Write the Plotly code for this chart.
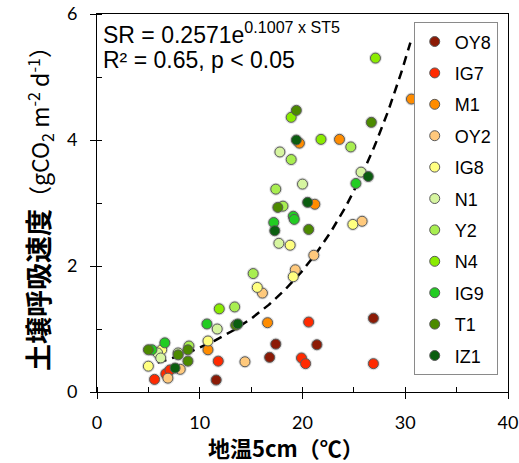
import numpy as np
import plotly.graph_objects as go

# Soil temperature at 5 cm (°C) and soil respiration (gCO2 m-2 d-1) per site
site_names = ["OY8", "IG7", "M1", "OY2", "IG8", "N1", "Y2", "N4", "IG9", "T1", "IZ1"]
site_colors = ["#8c1a05", "#ff2a00", "#ff8c00", "#ffc97c", "#ffff80", "#d6f5a0",
               "#a8ee50", "#8aec00", "#22cc22", "#4c8a00", "#0b5e10"]

temp_OY8 = [11.6, 26.9, 17.4, 21.4, 16.8, 6.8]
resp_OY8 = [0.19, 1.17, 0.76, 0.75, 0.55, 0.28]
temp_IG7 = [20.6, 11.8, 19.9, 20.3, 26.9, 5.6, 6.7, 7.1]
resp_IG7 = [1.11, 0.49, 0.54, 0.45, 0.45, 0.20, 0.29, 0.35]
temp_M1 = [30.6, 23.6, 19.7, 21.2, 16.6, 10.8]
resp_M1 = [4.65, 4.01, 3.95, 2.98, 1.10, 0.67]
temp_OY2 = [25.8, 21.1, 19.3, 16.1, 14.4, 6.9, 8.1]
resp_OY2 = [2.71, 2.17, 1.94, 1.57, 0.48, 0.22, 0.36]
temp_IG8 = [24.9, 18.8, 19.1, 15.6, 10.8, 5.0, 6.3]
resp_IG8 = [2.66, 2.33, 1.83, 1.66, 0.81, 0.41, 0.67]
temp_N1 = [17.8, 20.0, 25.7, 17.7, 11.7, 5.9, 6.2, 7.9]
resp_N1 = [3.81, 3.30, 3.49, 2.36, 1.00, 0.62, 0.54, 0.62]
temp_Y2 = [18.9, 24.7, 17.4, 18.1, 15.2, 8.95, 13.4]
resp_Y2 = [3.69, 3.89, 3.22, 2.95, 1.88, 0.73, 1.35]
temp_N4 = [27.1, 18.9, 21.8, 11.9]
resp_N4 = [5.30, 4.36, 4.01, 1.32]
temp_IG9 = [25.2, 19.1, 19.2, 17.2, 10.7, 6.6, 5.35]
resp_IG9 = [3.31, 2.79, 2.74, 2.69, 1.08, 0.78, 0.67]
temp_T1 = [19.4, 26.7, 17.6, 20.6, 7.9, 8.85, 8.85, 5.0, 13.5]
resp_T1 = [4.47, 4.28, 2.93, 2.58, 0.59, 0.67, 0.49, 0.67, 1.06]
temp_IZ1 = [19.4, 20.5, 26.4, 17.3, 13.7, 7.6]
resp_IZ1 = [4.00, 3.01, 3.42, 2.56, 1.08, 0.38]

site_temps = [temp_OY8, temp_IG7, temp_M1, temp_OY2, temp_IG8, temp_N1,
              temp_Y2, temp_N4, temp_IG9, temp_T1, temp_IZ1]
site_resps = [resp_OY8, resp_IG7, resp_M1, resp_OY2, resp_IG8, resp_N1,
              resp_Y2, resp_N4, resp_IG9, resp_T1, resp_IZ1]

x_ticks = [0, 10, 20, 30, 40]
y_ticks = [0, 2, 4, 6]

# Exponential fit SR = a * exp(b * ST5)
fit_a = 0.2571
fit_b = 0.1007
fit_range = [4.5, 30.5]

fig = go.Figure()

fit_x = np.linspace(fit_range[0], fit_range[1], 200)
fit_y = fit_a * np.exp(fit_b * fit_x)
fig.add_trace(go.Scatter(
    x=fit_x, y=fit_y, mode="lines", showlegend=False, hoverinfo="skip",
    line=dict(color="black", width=2.5, dash="9px,6px"),
))

# soft halo under each marker
all_t = [t for ts in site_temps for t in ts]
all_r = [r for rs in site_resps for r in rs]
fig.add_trace(go.Scatter(
    x=all_t, y=all_r, mode="markers", showlegend=False, hoverinfo="skip",
    marker=dict(size=13, color="rgba(0,0,0,0.13)", line=dict(width=0)),
))

for name, color, ts, rs in zip(site_names, site_colors, site_temps, site_resps):
    fig.add_trace(go.Scatter(
        x=ts, y=rs, mode="markers", name=name, legendgroup=name,
        marker=dict(size=10, color=color, line=dict(color="#5a5a5a", width=1)),
    ))

tick_font = dict(family="Lato, 'Open Sans', sans-serif", size=18, color="black")
axis_common = dict(showgrid=False, zeroline=False, showline=True, linecolor="black",
                   linewidth=1, tickcolor="black")

fig.update_layout(
    width=519, height=463,
    margin=dict(l=97, r=11, t=14, b=71, autoexpand=False),
    paper_bgcolor="white", plot_bgcolor="white",
    font=dict(family="Liberation Sans, Arial, sans-serif", color="black"),
    xaxis=dict(
        range=[0, 40], tickvals=x_ticks, mirror=True,
        ticks="outside", ticklen=6, ticklabelstandoff=8,
        minor=dict(dtick=5, ticks="inside", ticklen=5, tickcolor="black", showgrid=False),
        tickfont=tick_font, **axis_common,
    ),
    yaxis=dict(
        range=[0, 6], tickvals=y_ticks, mirror=True,
        ticks="outside", ticklen=6, ticklabelstandoff=9,
        minor=dict(dtick=1, ticks="inside", ticklen=5, tickcolor="black", showgrid=False),
        tickfont=tick_font,
        title=dict(text="<b><span style='font-size:27px'>土壌呼吸速度</span></b>"
                        "（gCO<sub>2</sub> m<sup>-2</sup> d<sup>-1</sup>）",
                   font=dict(family="Noto Sans CJK JP", size=23, color="black"),
                   standoff=10),
        **axis_common,
    ),
    # inner half of the major ticks, so they cross the axis lines
    xaxis2=dict(range=[0, 40], tickvals=x_ticks, overlaying="x", showticklabels=False,
                ticks="inside", ticklen=5, showline=False, showgrid=False,
                zeroline=False, tickcolor="black"),
    yaxis2=dict(range=[0, 6], tickvals=y_ticks, overlaying="y", showticklabels=False,
                ticks="inside", ticklen=5, showline=False, showgrid=False,
                zeroline=False, tickcolor="black"),
    legend=dict(
        x=0.975, y=0.978, xanchor="right", yanchor="top",
        bgcolor="white", bordercolor="#8a8a8a", borderwidth=1,
        font=dict(family="Liberation Sans, Arial, sans-serif", size=18, color="black"),
        tracegroupgap=5, itemwidth=30,
    ),
    annotations=[
        dict(text="SR = 0.2571e<sup>0.1007 x ST5</sup>", xref="paper", yref="paper",
             x=0.010, y=0.950, xanchor="left", yanchor="middle", showarrow=False,
             font=dict(family="Liberation Sans, Arial, sans-serif", size=23, color="black")),
        dict(text="R² = 0.65, p < 0.05", xref="paper", yref="paper",
             x=0.010, y=0.878, xanchor="left", yanchor="middle", showarrow=False,
             font=dict(family="Liberation Sans, Arial, sans-serif", size=23, color="black")),
        dict(text="<b>地温5cm（℃）</b>", xref="paper", yref="paper",
             x=0.46, y=-0.146, xanchor="center", yanchor="middle", showarrow=False,
             font=dict(family="Noto Sans CJK JP", size=22, color="black")),
    ],
)

# empty trace so the overlay tick axes are drawn
fig.add_trace(go.Scatter(x=[], y=[], xaxis="x2", yaxis="y2", showlegend=False,
                         hoverinfo="skip"))

fig.write_html("out.html")
